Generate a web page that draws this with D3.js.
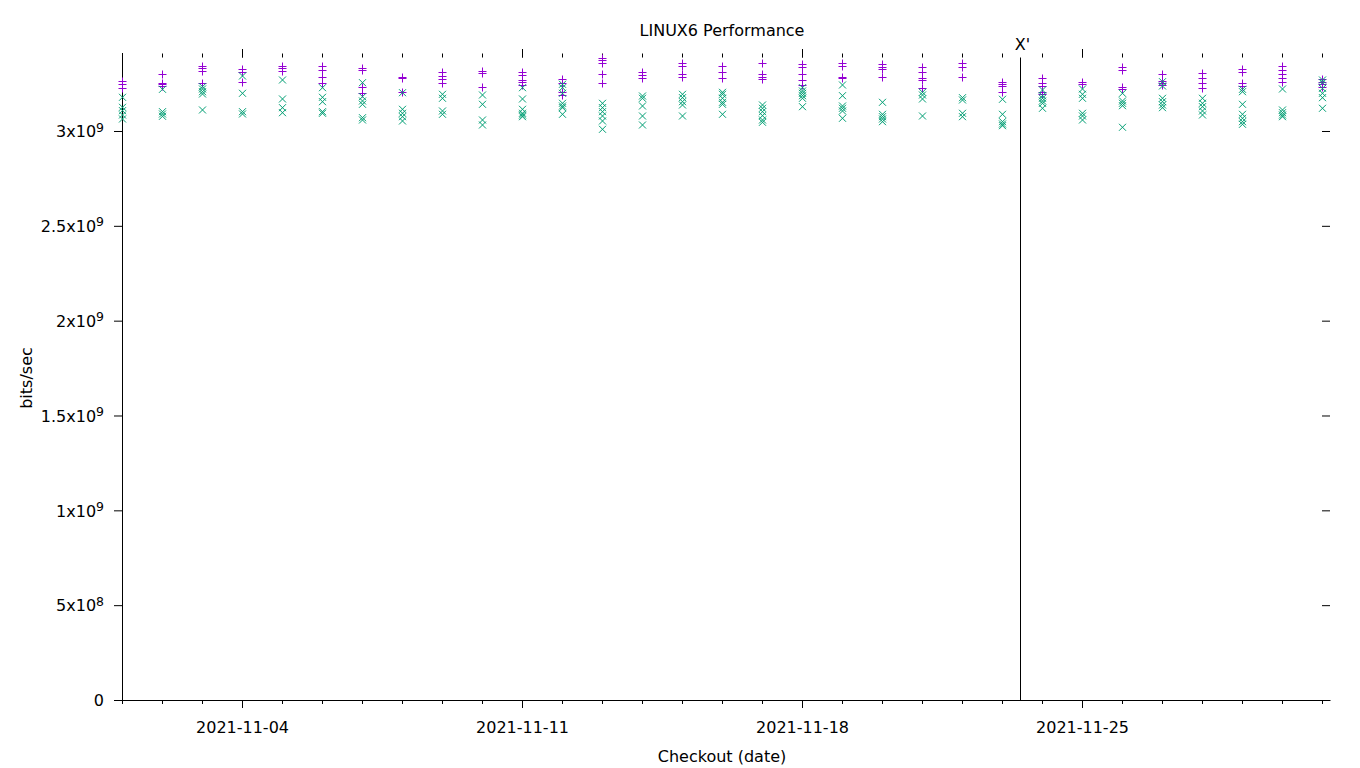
<!DOCTYPE html>
<html>
<head>
<meta charset="utf-8">
<script src="https://cdn.jsdelivr.net/npm/d3@7"></script>
<style>
  html, body { margin: 0; padding: 0; background: #fff; }
  svg { display: block; font-family: "DejaVu Sans", sans-serif; }
</style>
</head>
<body>
<svg id="chart" width="1360" height="768"></svg>
<script>
// ---------------- data ----------------
const dates = [
  "2021-11-01","2021-11-02","2021-11-03","2021-11-04","2021-11-05","2021-11-06","2021-11-07",
  "2021-11-08","2021-11-09","2021-11-10","2021-11-11","2021-11-12","2021-11-13","2021-11-14",
  "2021-11-15","2021-11-16","2021-11-17","2021-11-18","2021-11-19","2021-11-20","2021-11-21",
  "2021-11-22","2021-11-23","2021-11-24","2021-11-25","2021-11-26","2021-11-27","2021-11-28",
  "2021-11-29","2021-11-30","2021-12-01"
];
// purple "+" series, values in units of 1e9 bits/sec (several runs per day)
const plusValues = [
  [3.2636, 3.2462, 3.2283],
  [3.2990, 3.2547, 3.2462, 3.2373],
  [3.3427, 3.3306, 3.3179, 3.2547],
  [3.3253, 3.3111, 3.2568],
  [3.3443, 3.3306, 3.3179],
  [3.3443, 3.3216, 3.2863, 3.2515],
  [3.3337, 3.3216, 3.2336, 3.2019],
  [3.2863, 3.2779, 3.2072],
  [3.3126, 3.2900, 3.2726, 3.2515],
  [3.3163, 3.3042, 3.2304],
  [3.3095, 3.2953, 3.2689, 3.2568, 3.2425],
  [3.2726, 3.2547, 3.2072, 3.1898],
  [3.3865, 3.3743, 3.3569, 3.2990, 3.2547],
  [3.3126, 3.2953, 3.2779],
  [3.3569, 3.3443, 3.2990, 3.2863],
  [3.3443, 3.3126, 3.2779],
  [3.3569, 3.2990, 3.2831, 3.2726],
  [3.3516, 3.3390, 3.2990, 3.2689, 3.2425],
  [3.3569, 3.3443, 3.2863, 3.2779],
  [3.3516, 3.3390, 3.3269, 3.2831],
  [3.3390, 3.3095, 3.2810, 3.2689, 3.2251],
  [3.3569, 3.3390, 3.2863],
  [3.2599, 3.2478, 3.2373, 3.2072],
  [3.2779, 3.2547, 3.2373, 3.2040, 3.1935],
  [3.2599, 3.2478],
  [3.3390, 3.3216, 3.2336, 3.2214],
  [3.2990, 3.2636, 3.2547, 3.2425],
  [3.3042, 3.2779, 3.2547, 3.2283],
  [3.3253, 3.3126, 3.2515, 3.2389],
  [3.3443, 3.3216, 3.2990, 3.2779, 3.2568],
  [3.2726, 3.2599, 3.2462, 3.2336]
];
// green "x" series, values in units of 1e9 bits/sec
const crossValues = [
  [3.1777, 3.1250, 3.1071, 3.0844, 3.0633],
  [3.2198, 3.1018, 3.0897, 3.0775],
  [3.2336, 3.2214, 3.2072, 3.1951, 3.1108],
  [3.2900, 3.1988, 3.1018, 3.0897],
  [3.2689, 3.1688, 3.1229, 3.0965],
  [3.2283, 3.1777, 3.1545, 3.1018, 3.0934],
  [3.2547, 3.1809, 3.1582, 3.1408, 3.0701, 3.0580],
  [3.2019, 3.1144, 3.0934, 3.0754, 3.0527],
  [3.1935, 3.1724, 3.1055, 3.0881],
  [3.1898, 3.1408, 3.0580, 3.0316],
  [3.2283, 3.1688, 3.1144, 3.0934, 3.0844, 3.0754],
  [3.2462, 3.2283, 3.1988, 3.1461, 3.1318, 3.1229, 3.0881],
  [3.1461, 3.1229, 3.1018, 3.0791, 3.0527, 3.0090],
  [3.1846, 3.1724, 3.1318, 3.0791, 3.0316],
  [3.1935, 3.1756, 3.1545, 3.1371, 3.0791],
  [3.2040, 3.1935, 3.1724, 3.1513, 3.1408, 3.0881],
  [3.1371, 3.1197, 3.1018, 3.0807, 3.0580, 3.0459],
  [3.2283, 3.2109, 3.1988, 3.1861, 3.1724, 3.1281],
  [3.2425, 3.1861, 3.1318, 3.1197, 3.1055, 3.0670],
  [3.1513, 3.0881, 3.0754, 3.0633, 3.0491],
  [3.2040, 3.1898, 3.1688, 3.0791],
  [3.1756, 3.1635, 3.0934, 3.0754],
  [3.1672, 3.0881, 3.0491, 3.0369, 3.0280],
  [3.2162, 3.1861, 3.1724, 3.1582, 3.1461, 3.1197],
  [3.2214, 3.1935, 3.1724, 3.0934, 3.0791, 3.0580],
  [3.1988, 3.1582, 3.1461, 3.1334, 3.0195],
  [3.2599, 3.2373, 3.1724, 3.1545, 3.1371, 3.1229],
  [3.1724, 3.1461, 3.1281, 3.1055, 3.0844],
  [3.2198, 3.2072, 3.1408, 3.0881, 3.0670, 3.0491, 3.0353],
  [3.2214, 3.1108, 3.0965, 3.0844, 3.0754],
  [3.2689, 3.2547, 3.2251, 3.1988, 3.1756, 3.1197]
];
const valueUnit = 1e9;

const yTickValues   = [0, 5e8, 1e9, 1.5e9, 2e9, 2.5e9, 3e9];
const yTickMantissa = ["0", "5", "1", "1.5", "2", "2.5", "3"];
const yTickExponent = ["", "8", "9", "9", "9", "9", "9"];

const xMajorTicks = ["2021-11-04", "2021-11-11", "2021-11-18", "2021-11-25"];
const xDomain = ["2021-11-01T00:00", "2021-12-01T04:48"];
const yDomain = [0, 3.4112e9];

const markerDate = "2021-11-23T10:48";
const markerLabel = "X'";

const titleText = "LINUX6 Performance";
const xLabelText = "Checkout (date)";
const yLabelText = "bits/sec";

// ---------------- layout ----------------
const L = 122, R = 1330, T = 53, B = 700;
const purple = "#9400d3", green = "#009e73";
const fontSize = 16;

const parseDay = d3.utcParse("%Y-%m-%d");
const parseTime = d3.utcParse("%Y-%m-%dT%H:%M");

const x = d3.scaleUtc().domain(xDomain.map(parseTime)).range([L, R]);
const y = d3.scaleLinear().domain(yDomain).range([B, T]);

const svg = d3.select("#chart");

// ----- bottom axis: minor (daily) ticks -----
const dayTicks = dates.map(parseDay);
const majorTicks = xMajorTicks.map(parseDay);

svg.append("g")
  .attr("transform", `translate(0,${B})`)
  .call(d3.axisBottom(x).tickValues(dayTicks).tickSize(4).tickSizeOuter(0).tickFormat(""))
  .call(g => g.selectAll("line,path").attr("stroke", "#000"));

svg.append("g")
  .attr("transform", `translate(0,${B})`)
  .call(d3.axisBottom(x).tickValues(majorTicks).tickSize(8).tickSizeOuter(0)
        .tickPadding(13.5).tickFormat(d3.utcFormat("%Y-%m-%d")))
  .call(g => g.select(".domain").remove())
  .call(g => g.selectAll("text").attr("font-size", fontSize).attr("font-family", "DejaVu Sans").attr("fill", "#000"));

// ----- top mirrored ticks -----
const topBase = T + 4.5;
svg.append("g")
  .attr("transform", `translate(0,${topBase})`)
  .call(d3.axisTop(x).tickValues(dayTicks).tickSize(4).tickSizeOuter(0).tickFormat(""))
  .call(g => g.select(".domain").remove());
svg.append("g")
  .attr("transform", `translate(0,${topBase})`)
  .call(d3.axisTop(x).tickValues(majorTicks).tickSize(8.5).tickSizeOuter(0).tickFormat(""))
  .call(g => g.select(".domain").remove());

// ----- left axis -----
const yAxisG = svg.append("g")
  .attr("transform", `translate(${L},0)`)
  .call(d3.axisLeft(y).tickValues(yTickValues).tickSize(8).tickSizeOuter(0).tickPadding(10).tickFormat(""));
yAxisG.select(".domain").attr("d", `M0.5,${B}V${T}`);
yAxisG.selectAll(".tick").each(function(d, i) {
  const t = d3.select(this).append("text")
    .attr("x", -18)
    .attr("dy", "0.36em")
    .attr("text-anchor", "end")
    .attr("font-size", fontSize)
    .attr("font-family", "DejaVu Sans")
    .attr("fill", "#000");
  if (yTickExponent[i]) {
    t.append("tspan").text(yTickMantissa[i] + "x10");
    t.append("tspan").attr("dy", "-0.45em").attr("font-size", fontSize * 0.78).text(yTickExponent[i]);
  } else {
    t.text(yTickMantissa[i]);
  }
});

// ----- right mirrored ticks -----
svg.append("g")
  .attr("transform", `translate(${R},0)`)
  .call(d3.axisLeft(y).tickValues(yTickValues.filter(v => v > 0)).tickSize(8).tickSizeOuter(0).tickFormat(""))
  .call(g => g.select(".domain").remove());

// ----- marker line -----
const mx = Math.round(x(parseTime(markerDate))) + 0.5;
svg.append("line")
  .attr("x1", mx).attr("x2", mx)
  .attr("y1", T + 4.5).attr("y2", B)
  .attr("stroke", "#000").attr("stroke-width", 1);
svg.append("text")
  .attr("x", mx + 2).attr("y", 50)
  .attr("text-anchor", "middle")
  .attr("font-size", 16)
  .text(markerLabel);

// ----- points -----
function flatten(rows) {
  const out = [];
  rows.forEach((vals, i) => vals.forEach(v => out.push({ date: parseDay(dates[i]), value: v * valueUnit })));
  return out;
}
const plusPts = flatten(plusValues);
const crossPts = flatten(crossValues);

svg.append("g").selectAll("path")
  .data(plusPts).join("path")
  .attr("transform", d => `translate(${Math.round(x(d.date)) + 0.5},${Math.round(y(d.value)) + 0.5})`)
  .attr("d", "M-4,0H4M0,-4V4")
  .attr("stroke", purple).attr("stroke-width", 1).attr("fill", "none");

svg.append("g").selectAll("path")
  .data(crossPts).join("path")
  .attr("transform", d => `translate(${Math.round(x(d.date)) + 0.5},${y(d.value)})`)
  .attr("d", "M-3.5,-3.5L3.5,3.5M-3.5,3.5L3.5,-3.5")
  .attr("stroke", green).attr("stroke-width", 1).attr("fill", "none");

// ----- titles -----
svg.append("text")
  .attr("x", 722).attr("y", 35.5)
  .attr("text-anchor", "middle")
  .attr("font-size", fontSize)
  .text(titleText);

svg.append("text")
  .attr("x", 722).attr("y", 761.5)
  .attr("text-anchor", "middle")
  .attr("font-size", fontSize)
  .text(xLabelText);

svg.append("text")
  .attr("transform", "translate(32,378) rotate(-90)")
  .attr("text-anchor", "middle")
  .attr("font-size", fontSize)
  .text(yLabelText);
</script>
</body>
</html>
